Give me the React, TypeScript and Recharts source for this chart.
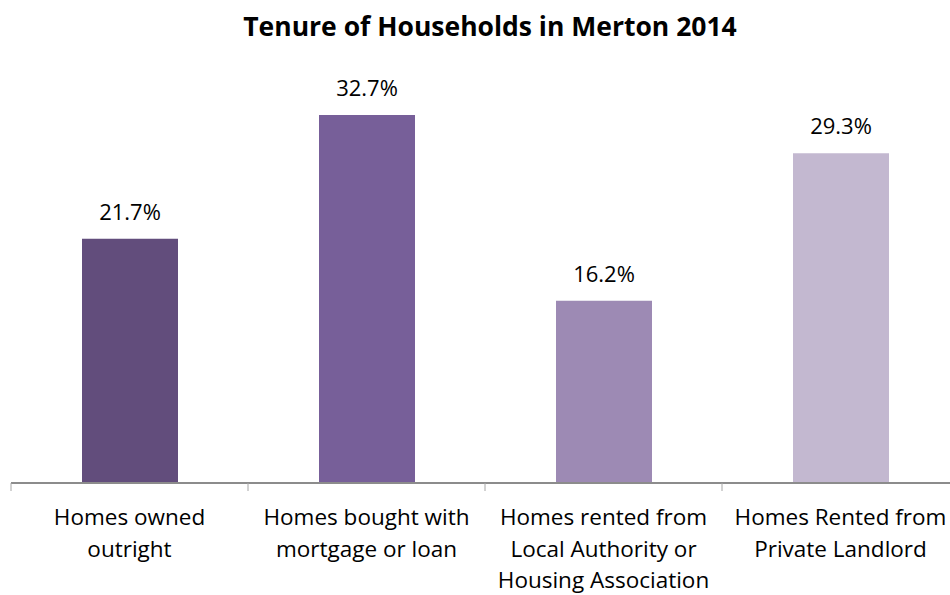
import { BarChart, Bar, XAxis, YAxis, Cell, LabelList } from "recharts";

const categories = [
  "Homes owned\noutright",
  "Homes bought with\nmortgage or loan",
  "Homes rented from\nLocal Authority or\nHousing Association",
  "Homes Rented from\nPrivate Landlord",
];
const shares = [21.7, 32.7, 16.2, 29.3];
const barColors = ["#624D7C", "#775F99", "#9D8AB4", "#C3B8D0"];

const data = categories.map((name, i) => ({ name, value: shares[i] }));

const FONT = "'Open Sans', sans-serif";
const CHART_W = 960;
const MARGIN = { top: 89, right: 1, left: 11, bottom: 0 };
const HALF_BAND = (CHART_W - MARGIN.left - MARGIN.right) / categories.length / 2;

function CategoryTick(props: any) {
  const { x, y, payload, index } = props;
  const lines = String(payload.value).split("\n");
  const last = index === categories.length - 1;
  return (
    <g>
      <line x1={x - HALF_BAND} x2={x - HALF_BAND} y1={y} y2={y + 8} stroke="#A6A6A6" strokeWidth={1} />
      {last && (
        <line x1={x + HALF_BAND} x2={x + HALF_BAND} y1={y} y2={y + 8} stroke="#A6A6A6" strokeWidth={1} />
      )}
      <text x={x} y={y} textAnchor="middle" fontFamily={FONT} fontSize={22.5} fill="#000">
        {lines.map((l, i) => (
          <tspan key={i} x={x} y={y + 42 + i * 31.5}>
            {l}
          </tspan>
        ))}
      </text>
    </g>
  );
}

export default function App() {
  return (
    <div style={{ width: 950, height: 595, overflow: "hidden", position: "relative", background: "#fff" }}>
      <style>{"body{margin:0}"}</style>
      <div
        style={{
          position: "absolute",
          left: 0,
          top: 8,
          width: 980,
          textAlign: "center",
          fontFamily: FONT,
          fontWeight: 700,
          fontSize: 26.5,
          lineHeight: "36px",
          color: "#000",
        }}
      >
        Tenure of Households in Merton 2014
      </div>
      <BarChart width={CHART_W} height={595} data={data} margin={MARGIN} barCategoryGap={0}>
        <XAxis
          dataKey="name"
          height={112}
          tickLine={false}
          tickSize={0}
          tickMargin={0}
          interval={0}
          axisLine={{ stroke: "#8C8C8C", strokeWidth: 2 }}
          tick={<CategoryTick />}
        />
        <YAxis hide domain={[0, 35]} width={0} />
        <Bar dataKey="value" barSize={96} isAnimationActive={false}>
          {data.map((d, i) => (
            <Cell key={d.name} fill={barColors[i]} />
          ))}
          <LabelList
            dataKey="value"
            position="top"
            offset={19}
            formatter={(v: any) => `${v}%`}
            style={{ fontFamily: FONT, fontSize: 22, fill: "#000" }}
          />
        </Bar>
      </BarChart>
    </div>
  );
}
